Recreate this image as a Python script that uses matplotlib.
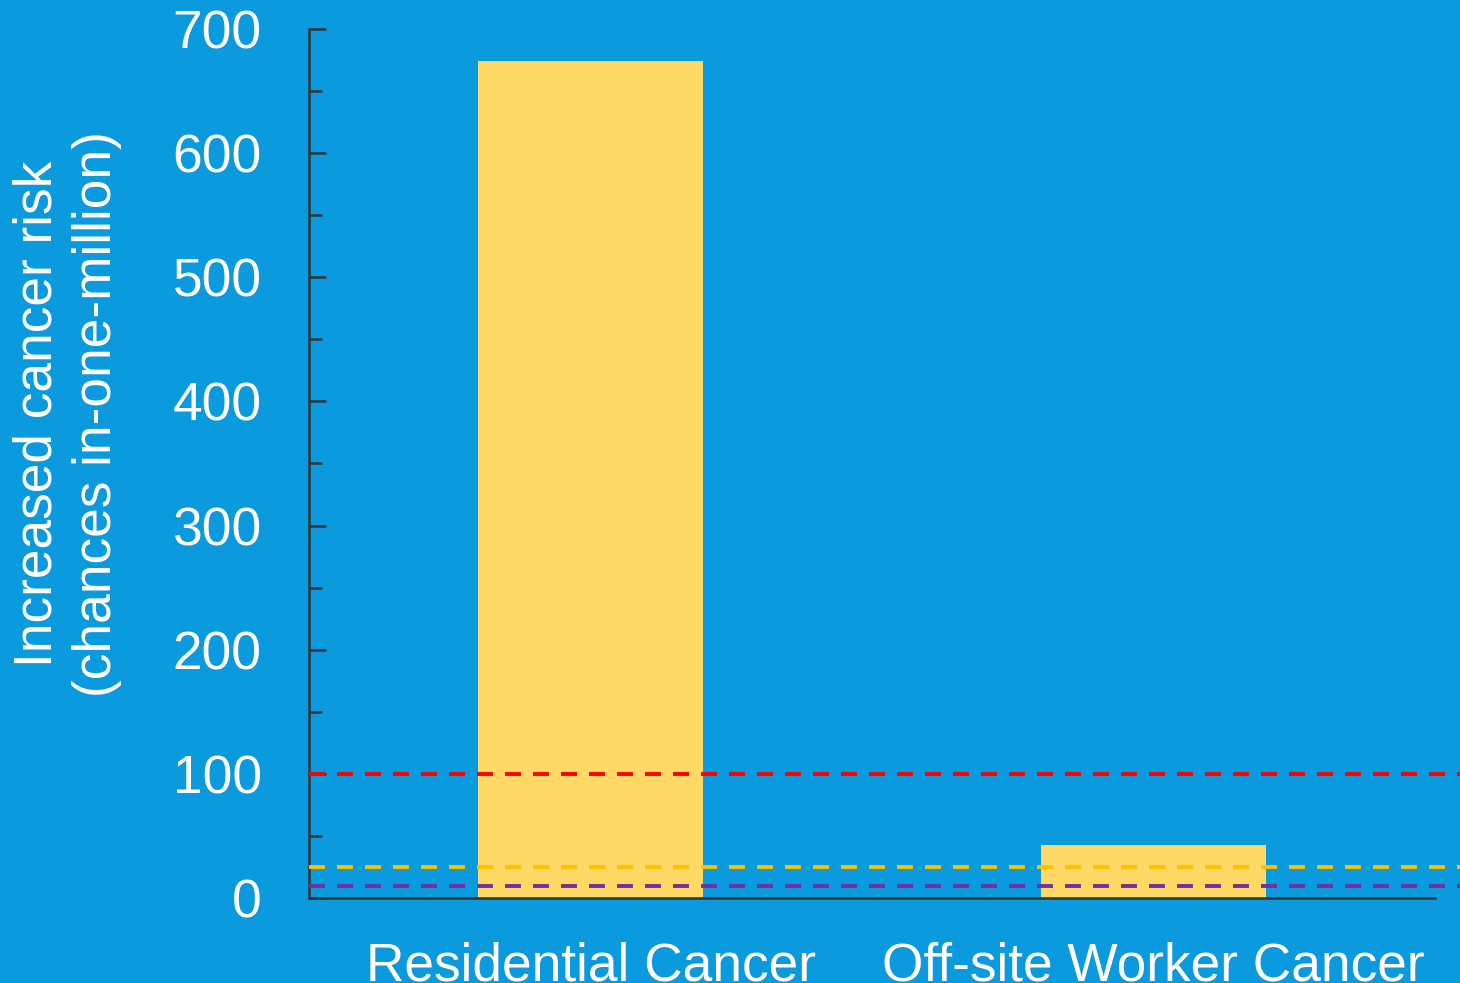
import matplotlib.pyplot as plt
from matplotlib.ticker import MultipleLocator

plt.rcParams['font.family'] = ['Liberation Sans', 'DejaVu Sans']

# data
categories = ['Residential Cancer', 'Off-site Worker Cancer']
risk = [674, 43]
thresholds = [100, 25, 10]
threshold_colors = ['#FF0000', '#FFC000', '#7030A0']

bg = '#0C9ADE'
white = 'white'

fig = plt.figure(figsize=(14.6, 9.83), dpi=100, facecolor=bg)
ax = fig.add_axes([0.2116, 0.0865, 0.7884, 0.884])
ax.set_facecolor(bg)

x = range(len(categories))
ax.bar(x, risk, width=0.4, color='#FFD966', zorder=2)

for val, col in zip(thresholds, threshold_colors):
    ax.axhline(val, color=col, lw=2.8, dashes=(4.1, 3.1), zorder=3)

ax.set_xlim(-0.5, 1.544)
ax.set_ylim(0, 700)
ax.set_xticks(list(x))
ax.set_xticklabels(categories)
ax.yaxis.set_major_locator(MultipleLocator(100))
ax.yaxis.set_minor_locator(MultipleLocator(50))

for s in ['top', 'right']:
    ax.spines[s].set_visible(False)
ax.spines['left'].set_color('#333333')
ax.spines['bottom'].set_color('#333333')
ax.spines['left'].set_linewidth(1.8)
ax.spines['bottom'].set_linewidth(1.8)
ax.spines['bottom'].set_bounds(-0.5, 1.5)

ax.tick_params(axis='x', length=0, pad=31, labelsize=38.3, labelcolor=white)
ax.tick_params(axis='y', which='major', direction='in', length=12, width=1.8,
               color='#333333', pad=34, labelsize=38.3, labelcolor=white)
ax.tick_params(axis='y', which='minor', direction='in', length=9, width=1.8,
               color='#333333')

ax.set_ylabel('Increased cancer risk\n(chances in-one-million)', fontsize=38.3,
              color=white, linespacing=1.25, va='center')
ax.yaxis.set_label_coords(-0.21, 0.557)

fig.savefig('out.png', dpi=100, facecolor=bg)
